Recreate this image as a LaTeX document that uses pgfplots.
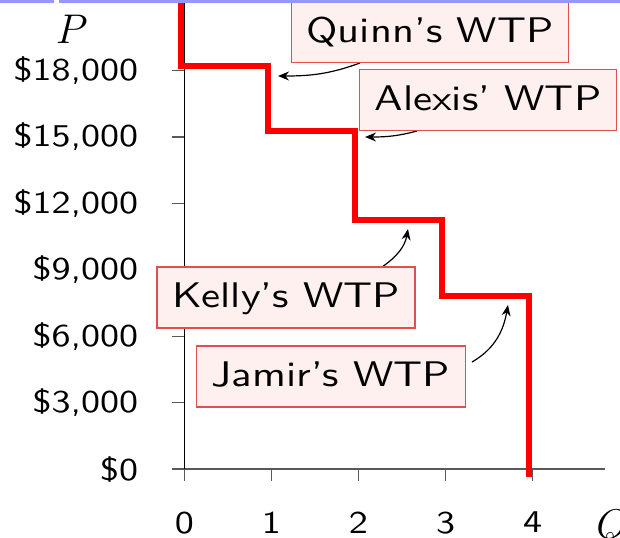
\documentclass[border=0pt]{standalone}
\usepackage{fontspec}
\usepackage{pgfplots}
\pgfplotsset{compat=1.18}
\usetikzlibrary{arrows.meta}
\newfontfamily\widesans{lmsans10-regular.otf}[FakeStretch=1.2, Ligatures=TeX]
\definecolor{boxfill}{RGB}{255,240,240}
\definecolor{boxline}{RGB}{222,80,80}
\definecolor{topbar}{RGB}{150,150,255}

\begin{document}
\begin{tikzpicture}[
  wtp/.style={draw=boxline, fill=boxfill, line width=0.7pt,
    font=\fontsize{17.8}{21}\selectfont\widesans,
    inner xsep=7.5pt, inner ysep=6.25pt, text height=14.25pt, text depth=3.75pt},
  pointer/.style={-{Stealth[length=5.5pt,width=4.5pt]}, line width=0.6pt},
]
\useasboundingbox (-92.15pt,-34pt) rectangle (217.85pt,234.5pt);
\begin{axis}[
  scale only axis, width=210.35pt, height=234.5pt,
  xmin=0, xmax=4.83, ymin=0, ymax=21190,
  axis x line=bottom, axis y line=left,
  axis line style={-, line width=0.6pt},
  x axis line style={black!65},
  tick align=outside, major tick length=6pt,
  tick style={black!65, line width=0.6pt},
  xtick={0,1,2,3,4}, xticklabels={0,1,2,3,4},
  ytick={0,3000,6000,9000,12000,15000,18000},
  yticklabels={\$0,{\$3,000},{\$6,000},{\$9,000},{\$12,000},{\$15,000},{\$18,000}},
  ticklabel style={font=\fontsize{15.85}{18}\selectfont\widesans},
  yticklabel style={xshift=-13.5pt},
  xticklabel style={yshift=-12pt},
  clip=false,
]
% demand curve (steps of willingness to pay)
\addplot[red, line width=3pt, xshift=-1.8pt] coordinates {
  (0,22500) (0,18200) (1,18200) (1,15250) (2,15250) (2,11230)
  (3,11230) (3,7820) (4,7820) (4,-350)};

\draw[pointer] (axis cs:2.017,18343) to[out=200,in=0] (axis cs:1.076,17756);
\draw[pointer] (axis cs:2.672,15271) to[out=195,in=0] (axis cs:2.075,15000);
\draw[pointer] (axis cs:2.27,9126) to[out=35,in=-100] (axis cs:2.568,10843);
\draw[pointer] (axis cs:3.303,4834) to[out=30,in=-100] (axis cs:3.716,7410);

\node[wtp] at (axis cs:2.82,19743) {Quinn's WTP};
\node[wtp] at (axis cs:3.486,16671) {Alexis' WTP};
\node[wtp] at (axis cs:1.168,7749) {Kelly's WTP};
\node[wtp] at (axis cs:1.684,4184) {Jamir's WTP};

\node[anchor=base west, inner sep=0pt, font=\fontsize{20.74}{24}\selectfont] at (axis cs:-1.48,19247) {$P$};
\node[anchor=base west, inner sep=0pt, font=\fontsize{20.74}{24}\selectfont] at (axis cs:4.727,-3140) {$Q$};
\end{axis}
\fill[topbar] (-92.15pt,233pt) rectangle (-65.35pt,234.5pt);
\fill[topbar] (-62.75pt,233pt) rectangle (217.85pt,234.5pt);
\end{tikzpicture}
\end{document}
